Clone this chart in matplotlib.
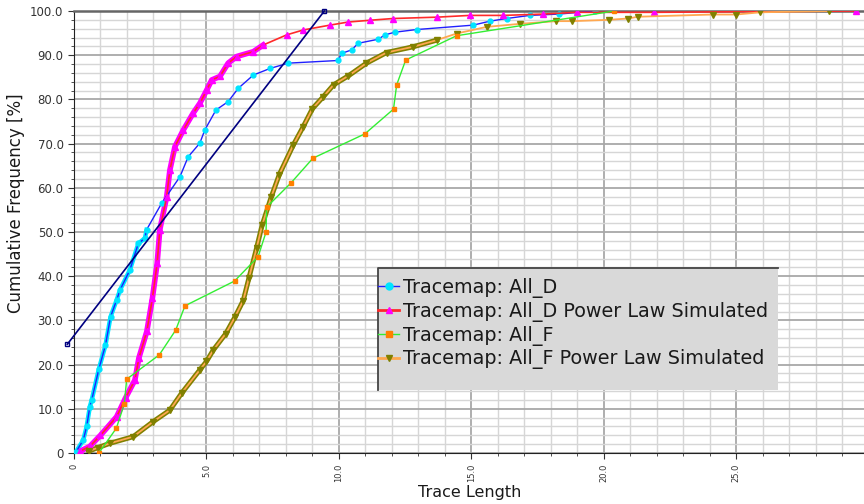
#!/usr/bin/env python3

import matplotlib
matplotlib.use('Agg')
import matplotlib.pyplot as plt
import numpy as np
from matplotlib.lines import Line2D
from matplotlib.patches import Rectangle
from matplotlib.ticker import MultipleLocator

# Tracemap: All_D (observed)
d_x = [0.08, 0.35, 0.48, 0.6, 0.67, 0.94, 1.19, 1.38, 1.61, 1.74, 2.11, 2.43, 2.68, 2.74,
       3.31, 4.0, 4.31, 4.75, 4.94, 5.36, 5.82, 6.2, 6.77, 7.4, 8.09, 9.97, 10.1, 10.48,
       10.73, 11.48, 11.74, 12.11, 12.93, 15.07, 15.7, 16.33, 17.2, 18.3, 19.66]
d_y = [0.3, 2.9, 6.0, 10.5, 12.0, 19.0, 24.4, 30.8, 34.6, 36.9, 41.4, 47.4, 48.6, 50.5,
       56.5, 62.5, 67.0, 70.1, 73.1, 77.6, 79.5, 82.5, 85.5, 87.0, 88.2, 88.8, 90.4, 91.2,
       92.7, 93.6, 94.6, 95.2, 95.8, 96.8, 97.7, 98.3, 99.0, 99.3, 100.0]

# Tracemap: All_D Power Law Simulated
dp_x = [0.23, 0.6, 1.0, 1.61, 1.95, 2.3, 2.45, 2.75, 2.96, 3.14, 3.24, 3.5, 3.62, 3.81,
        4.13, 4.5, 4.75, 5.01, 5.2, 5.51, 5.82, 6.14, 6.77, 7.14, 8.03, 8.65, 9.66, 10.35,
        11.17, 12.05, 13.69, 14.94, 16.2, 17.7, 18.97, 21.9, 29.5]
dp_y = [0.4, 1.5, 4.0, 8.2, 12.5, 16.5, 21.5, 27.5, 35.0, 42.9, 50.5, 58.0, 64.0, 69.3,
        73.1, 76.9, 79.1, 82.1, 84.4, 85.2, 88.2, 89.7, 90.8, 92.3, 94.6, 95.7, 96.8, 97.5,
        97.9, 98.3, 98.6, 99.0, 99.0, 99.3, 99.7, 99.7, 100.0]

# Tracemap: All_F (observed)
f_x = [0.94, 1.6, 1.9, 1.99, 3.22, 3.84, 4.19, 6.06, 6.95, 7.25, 7.27, 8.19, 9.02,
       10.98, 12.06, 12.18, 12.52, 14.44, 20.4]
f_y = [0.0, 5.6, 11.1, 16.7, 22.2, 27.8, 33.3, 38.9, 44.4, 50.0, 55.6, 61.1, 66.7,
       72.2, 77.8, 83.3, 88.9, 94.4, 100.0]

# Tracemap: All_F Power Law Simulated
fp_x = [0.55, 0.9, 1.36, 2.24, 2.99, 3.62, 4.06, 4.75, 5.0, 5.26, 5.73, 6.08, 6.39, 6.6,
        6.89, 7.1, 7.45, 7.75, 8.28, 8.65, 9.0, 9.41, 9.8, 10.35, 11.04, 11.8, 12.8, 13.69,
        14.44, 15.57, 16.85, 18.2, 18.8, 20.2, 20.9, 21.3, 24.1, 25.0, 25.9, 28.5]
fp_y = [0.4, 1.2, 2.2, 3.7, 7.1, 9.7, 13.5, 18.8, 20.7, 23.3, 27.0, 30.8, 34.5, 39.5,
        46.3, 51.5, 58.0, 63.0, 69.7, 73.8, 77.9, 80.6, 83.3, 85.3, 88.2, 90.6, 91.9, 93.4,
        94.9, 96.4, 97.1, 97.7, 97.7, 98.0, 98.3, 98.7, 99.2, 99.2, 99.7, 100.0]

# straight reference line (not in legend)
fit_x = [-0.25, 9.45]
fit_y = [24.6, 100.0]

x_ticks = [0, 5, 10, 15, 20, 25, 30]
x_labels = ['0', '5.0', '10.0', '15.0', '20.0', '25.0', '30.0']
y_ticks = [0, 10, 20, 30, 40, 50, 60, 70, 80, 90, 100]
y_labels = ['0', '10.0', '20.0', '30.0', '40.0', '50.0', '60.0', '70.0', '80.0', '90.0', '100.0']

labels = ['Tracemap: All_D', 'Tracemap: All_D Power Law Simulated',
          'Tracemap: All_F', 'Tracemap: All_F Power Law Simulated']

fig = plt.figure(figsize=(8.64, 5.04), dpi=100)
ax = fig.add_axes([0.0856, 0.1012, 0.92, 0.877])

d_x, d_y = np.array(d_x), np.array(d_y)
dp_x, dp_y = np.array(dp_x), np.array(dp_y)
fp_x, fp_y = np.array(fp_x), np.array(fp_y)

# dense lower parts of the curves look like thick bands
m = d_y <= 52
ax.plot(d_x[m], d_y[m], color='#00e5ff', lw=3.2, zorder=3)
m = dp_y <= 93
ax.plot(dp_x[m], dp_y[m], color='#ff00ff', lw=4, zorder=3)
m = fp_y <= 94
ax.plot(fp_x[m], fp_y[m], color='#808000', lw=3.6, zorder=3)

ax.plot(d_x, d_y, color='#2020ff', lw=1, marker='o', ms=3.5, mfc='#00e5ff', mec='#00e5ff', zorder=4)
ax.plot(dp_x, dp_y, color='#ff2a2a', lw=1.2, marker='^', ms=4.5, mfc='#ff00ff', mec='#ff00ff', zorder=4)
ax.plot(f_x, f_y, color='#33ee33', lw=1, marker='s', ms=3.5, mfc='#ff8000', mec='#ff8000', zorder=5)
ax.plot(fp_x, fp_y, color='#ffa850', lw=1.3, marker='v', ms=4.5, mfc='#808000', mec='#808000', zorder=4)

ax.plot(fit_x, fit_y, color='#000080', lw=1.2, marker='s', ms=3.5, mfc='none',
        mec='#000080', clip_on=False, zorder=6)

ax.set_xlim(0, 30)
ax.set_ylim(0, 100)
ax.set_xticks(x_ticks)
ax.set_xticklabels(x_labels, rotation=90, fontsize=6, color='#333333')
ax.set_yticks(y_ticks)
ax.set_yticklabels(y_labels, fontsize=8.5, color='#333333')
ax.xaxis.set_minor_locator(MultipleLocator(1))
ax.yaxis.set_minor_locator(MultipleLocator(2))
ax.tick_params(which='major', direction='out', length=4, color='#333333')
ax.tick_params(which='minor', direction='out', length=2.5, color='#333333')

ax.grid(which='major', color='#a8a8a8', lw=1.3, zorder=0)
ax.grid(which='minor', color='#d6d6d6', lw=1.0, zorder=0)
ax.set_axisbelow(True)

ax.spines['right'].set_visible(False)
ax.spines['top'].set_color('#666666')
ax.spines['top'].set_linewidth(1.8)
ax.spines['left'].set_color('#222222')
ax.spines['bottom'].set_color('#222222')

ax.set_xlabel('Trace Length', fontsize=11.5, color='#1a1a1a')
ax.xaxis.set_label_coords(0.498, -0.073)
ax.set_ylabel('Cumulative Frequency [%]', fontsize=12, color='#1a1a1a')
ax.yaxis.set_label_coords(-0.062, 0.566)

# legend box: grey panel with dark top and left edges
bx0, by0, bx1, by1 = 0.382, 0.143, 0.886, 0.419
ax.add_patch(Rectangle((bx0, by0), bx1 - bx0, by1 - by0, transform=ax.transAxes,
                       facecolor='#d9d9d9', edgecolor='none', zorder=7))
ax.add_line(Line2D([bx0, bx0, bx1], [by0, by1, by1], transform=ax.transAxes,
                   color='#444444', lw=1.3, zorder=8))

handles = [
    Line2D([], [], color='#2020ff', lw=1, marker='o', ms=5, mfc='#00e5ff', mec='#00e5ff'),
    Line2D([], [], color='#ff2a2a', lw=2, marker='^', ms=5, mfc='#ff00ff', mec='#ff00ff'),
    Line2D([], [], color='#33ee33', lw=1, marker='s', ms=5, mfc='#ff8000', mec='#ff8000'),
    Line2D([], [], color='#ffa850', lw=2, marker='v', ms=5, mfc='#808000', mec='#808000'),
]
leg = ax.legend(handles, labels, loc='upper left', bbox_to_anchor=(0.383, 0.396),
                fontsize=13.8, frameon=False, borderpad=0,
                handlelength=1.1, handletextpad=0.2, labelspacing=0.2, borderaxespad=0)
leg.set_zorder(9)
for t in leg.get_texts():
    t.set_color('#1a1a1a')

fig.savefig('out.png', dpi=100)
